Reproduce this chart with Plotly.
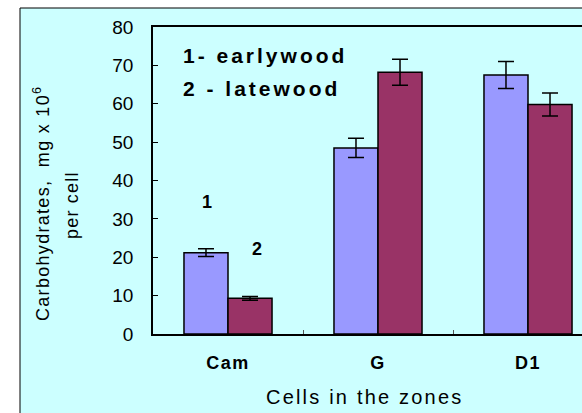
import plotly.graph_objs as go

zones = ['Cam', 'G', 'D1']
earlywood = [21.2, 48.5, 67.5]
earlywood_err = [1.0, 2.5, 3.5]
latewood = [9.3, 68.2, 59.8]
latewood_err = [0.5, 3.4, 3.0]

FONT = 'Liberation Sans, Arial, sans-serif'
W, H = 582, 413
L, T, B = 153, 27, 79
PW = W - L
PH = H - T - B


def px_x(p):
    return (p - L) / PW


def px_y(p):
    return (H - B - p) / PH


def spaced(txt, sp):
    return '<span style="letter-spacing:%spx">%s</span>' % (sp, txt)


data = [
    go.Bar(x=zones, y=earlywood, name='earlywood',
           marker=dict(color='#9999FF', line=dict(color='black', width=1.5)),
           error_y=dict(type='data', array=earlywood_err, color='black', thickness=1.5, width=8)),
    go.Bar(x=zones, y=latewood, name='latewood',
           marker=dict(color='#993366', line=dict(color='black', width=1.5)),
           error_y=dict(type='data', array=latewood_err, color='black', thickness=1.5, width=8)),
]

annotations = [
    dict(text=spaced('<b>1- earlywood</b>', 3), x=px_x(181), y=px_y(55), xanchor='left',
         font=dict(size=21)),
    dict(text=spaced('<b>2 - latewood</b>', 3), x=px_x(181), y=px_y(88), xanchor='left',
         font=dict(size=21)),
    dict(text='<b>1</b>', x=px_x(207), y=px_y(202), font=dict(size=18)),
    dict(text='<b>2</b>', x=px_x(257), y=px_y(249), font=dict(size=18)),
    dict(text=spaced('Carbohydrates,  mg x 10<sup>6</sup>', 1.3), x=px_x(41), y=px_y(204),
         textangle=-90, font=dict(size=18)),
    dict(text=spaced('per cell', 1.2), x=px_x(72), y=px_y(205), textangle=-90, font=dict(size=18)),
    dict(text=spaced('Cells in the zones', 2.2), x=px_x(364), y=px_y(397), font=dict(size=20)),
]
for a in annotations:
    a.setdefault('xanchor', 'center')
    a.update(xref='paper', yref='paper', yanchor='middle', showarrow=False)
    a['font'].update(family=FONT, color='black')

shapes = [
    # outer cyan frame
    dict(type='rect', xref='paper', yref='paper', layer='below',
         x0=px_x(20), x1=px_x(700), y0=px_y(500), y1=px_y(8),
         fillcolor='#CCFFFF', line=dict(color='black', width=1)),
]

layout = go.Layout(
    width=W, height=H,
    margin=dict(l=L, r=0, t=T, b=B, pad=0),
    paper_bgcolor='white', plot_bgcolor='white',
    showlegend=False,
    barmode='group', bargap=0.413, bargroupgap=0,
    font=dict(family=FONT, color='black'),
    xaxis=dict(range=[-0.5, -0.5 + PW / 150.0], showgrid=False, zeroline=False,
               showline=True, linecolor='black', linewidth=1.5, mirror=True,
               ticks='inside', ticklen=4, tickwidth=1, tickcolor='#555', tickson='boundaries',
               tickmode='array', tickvals=zones,
               ticktext=[spaced('<b>%s</b>' % z, 1.5) for z in zones],
               tickfont=dict(size=18), ticklabelstandoff=12),
    yaxis=dict(range=[0, 80], dtick=10, showgrid=False, zeroline=False,
               showline=True, linecolor='black', linewidth=1.5,
               ticks='inside', ticklen=5, tickwidth=1, tickcolor='black',
               tickfont=dict(size=19), ticklabelstandoff=14),
    annotations=annotations,
    shapes=shapes,
)

fig = go.Figure(data=data, layout=layout)
fig.write_html('out.html', config={'displayModeBar': False},
               post_script="document.body.style.margin='0';")
